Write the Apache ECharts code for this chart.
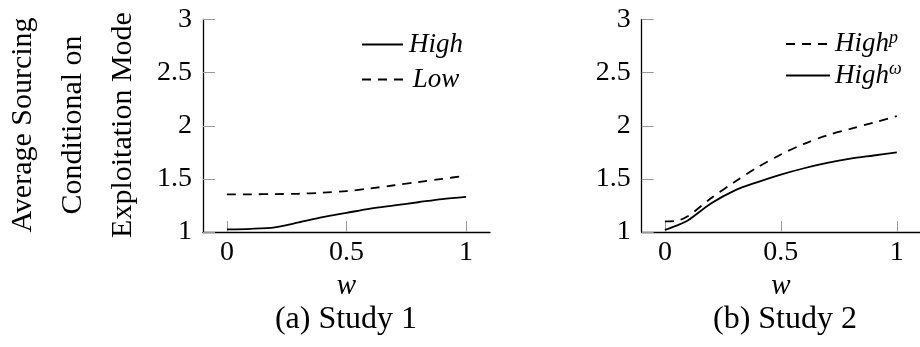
<!DOCTYPE html>
<html>
<head>
<meta charset="utf-8">
<script src="https://cdn.jsdelivr.net/npm/echarts@6.0.0/dist/echarts.min.js"></script>
<style>
  html, body { margin: 0; padding: 0; background: #fff; }
  #chart { width: 920px; height: 347px; }
</style>
</head>
<body>
<div id="chart"></div>
<script>
// study 1 (left panel)
const wStudy1 = [0, 0.1, 0.2, 0.3, 0.4, 0.5, 0.6, 0.7, 0.8, 0.9, 1];
const highStudy1 = [1.025, 1.03, 1.044, 1.09, 1.14, 1.18, 1.22, 1.25, 1.28, 1.31, 1.33];
const lowStudy1 = [1.355, 1.355, 1.357, 1.36, 1.37, 1.385, 1.41, 1.44, 1.47, 1.5, 1.53];

// study 2 (right panel)
const wStudy2 = [0, 0.05, 0.1, 0.2, 0.3, 0.4, 0.5, 0.6, 0.7, 0.8, 0.9, 1];
const highPStudy2 = [1.1, 1.105, 1.15, 1.32, 1.47, 1.61, 1.73, 1.83, 1.91, 1.97, 2.03, 2.09];
const highOmegaStudy2 = [1.02, 1.06, 1.11, 1.27, 1.39, 1.47, 1.54, 1.6, 1.65, 1.69, 1.72, 1.75];

const xTicks = [0, 0.5, 1];
const yMin = 1, yMax = 3, yStep = 0.5;

const FONT = "Liberation Serif";
const toPairs = (xs, ys) => xs.map((x, i) => [x, ys[i]]);

function xAxisFor(idx) {
  return {
    gridIndex: idx,
    type: "value",
    min: -0.1,
    max: 1.1,
    name: "w",
    nameLocation: "middle",
    nameGap: 39,
    nameTextStyle: { fontFamily: FONT, fontSize: 29, fontStyle: "italic", color: "#000" },
    axisLine: { show: true, onZero: false, lineStyle: { color: "#000", width: 1.3 } },
    axisTick: { show: true, inside: true, length: 11, customValues: xTicks, lineStyle: { color: "#999", width: 1 } },
    axisLabel: { customValues: xTicks, margin: 7, fontFamily: FONT, fontSize: 28, color: "#000" },
    splitLine: { show: false },
  };
}

function yAxisFor(idx) {
  return {
    gridIndex: idx,
    type: "value",
    min: yMin,
    max: yMax,
    interval: yStep,
    axisLine: { show: true, onZero: false, lineStyle: { color: "#000", width: 1.3 } },
    axisTick: { show: true, inside: true, length: 12, lineStyle: { color: "#999", width: 1 } },
    axisLabel: { margin: 11, fontFamily: FONT, fontSize: 28, color: "#000" },
    splitLine: { show: false },
  };
}

function lineSeries(name, idx, data, dashed) {
  return {
    name: name,
    type: "line",
    xAxisIndex: idx,
    yAxisIndex: idx,
    data: data,
    symbol: "none",
    smooth: 0.3,
    lineStyle: { color: "#000", width: 1.8, type: dashed ? [9, 7] : "solid" },
    itemStyle: { color: "#000" },
  };
}

const legendText = {
  fontFamily: FONT,
  fontSize: 27,
  fontStyle: "italic",
  color: "#000",
  lineHeight: 26,
  rich: {
    b: { fontFamily: FONT, fontSize: 27, fontStyle: "italic", color: "#000" },
    s: { fontFamily: FONT, fontSize: 18, fontStyle: "italic", color: "#000", padding: [0, 0, 12, 0] },
    c: { fontFamily: FONT, fontSize: 27, fontStyle: "italic", color: "#000", width: 56, align: "center" },
  },
};

const chart = echarts.init(document.getElementById("chart"));
chart.setOption({
  animation: false,
  grid: [
    { left: 203, top: 19.5, width: 287, height: 212.5 },
    { left: 641.7, top: 19.5, width: 286, height: 212.5 },
  ],
  xAxis: [xAxisFor(0), xAxisFor(1)],
  yAxis: [yAxisFor(0), yAxisFor(1)],
  legend: [
    {
      data: ["High", "Low"],
      orient: "vertical",
      left: 356,
      top: 26,
      itemWidth: 41,
      itemHeight: 14,
      itemGap: 8,
      itemStyle: { opacity: 0 },
      textStyle: legendText,
      formatter: (n) => "{c|" + n + "}",
    },
    {
      data: ["Highp", "Highw"],
      orient: "vertical",
      left: 780,
      top: 24,
      itemWidth: 44,
      itemHeight: 14,
      itemGap: 3,
      itemStyle: { opacity: 0 },
      textStyle: legendText,
      formatter: (n) => (n === "Highp" ? "{b|High}{s|p}" : "{b|High}{s|ω}"),
    },
  ],
  graphic: [
    {
      type: "text",
      x: 73,
      y: 125,
      rotation: Math.PI / 2,
      style: {
        text: "Average Sourcing\nConditional on\nExploitation Mode",
        fontFamily: FONT,
        fontSize: 30,
        lineHeight: 50,
        fill: "#000",
        align: "center",
        verticalAlign: "middle",
      },
    },
    {
      type: "text",
      x: 346,
      y: 320,
      style: { text: "(a) Study 1", fontFamily: FONT, fontSize: 32, fill: "#000", align: "center", verticalAlign: "middle" },
    },
    {
      type: "text",
      x: 785,
      y: 320,
      style: { text: "(b) Study 2", fontFamily: FONT, fontSize: 32, fill: "#000", align: "center", verticalAlign: "middle" },
    },
  ],
  series: [
    lineSeries("High", 0, toPairs(wStudy1, highStudy1), false),
    lineSeries("Low", 0, toPairs(wStudy1, lowStudy1), true),
    lineSeries("Highp", 1, toPairs(wStudy2, highPStudy2), true),
    lineSeries("Highw", 1, toPairs(wStudy2, highOmegaStudy2), false),
  ],
});
</script>
</body>
</html>
